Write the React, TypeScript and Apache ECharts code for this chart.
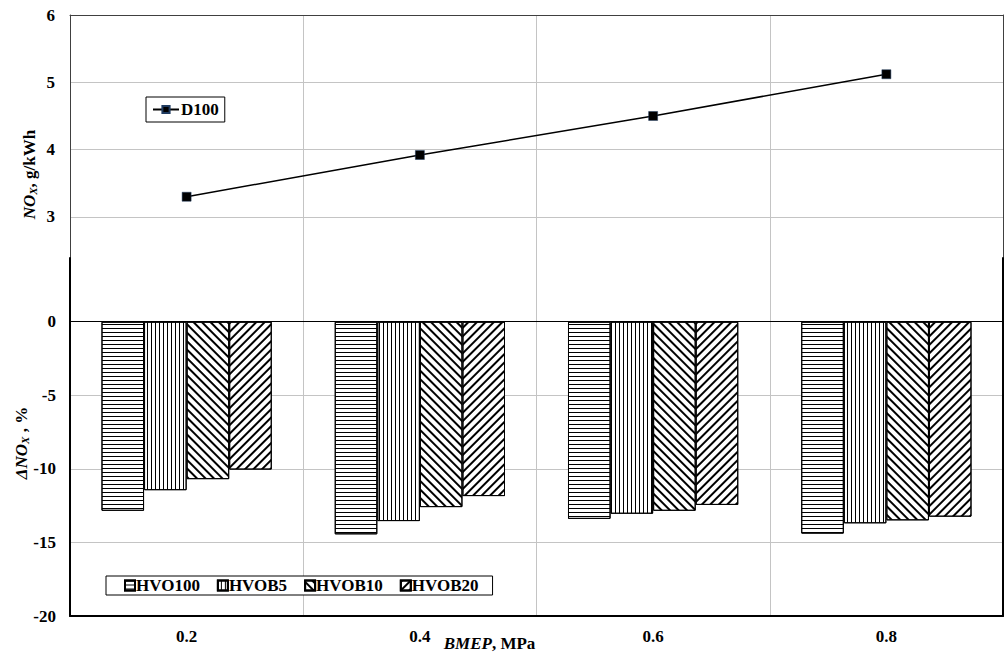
import React, { useEffect, useRef } from "react";
import * as echarts from "echarts";

const categories = ["0.2", "0.4", "0.6", "0.8"];
const d100 = [3.3, 3.92, 4.5, 5.12];
const hvo100 = [-12.85, -14.45, -13.4, -14.4];
const hvob5 = [-11.45, -13.55, -13.05, -13.7];
const hvob10 = [-10.7, -12.6, -12.85, -13.5];
const hvob20 = [-10.05, -11.85, -12.45, -13.25];
const barNames = ["HVO100", "HVOB5", "HVOB10", "HVOB20"];

const FONT = "Liberation Serif";
const GRID_GREY = "#c4c4c4";

const lineDecal = (rotation: number, w: number, gap: number) => ({
  symbol: "rect",
  symbolSize: 1,
  color: "#000",
  backgroundColor: "#fff",
  dashArrayX: [1, 0],
  dashArrayY: [w, gap],
  rotation,
});

const decals = [
  lineDecal(0, 1, 2.3),
  lineDecal(Math.PI / 2, 1, 2.5),
  lineDecal(Math.PI / 4, 2, 3.6),
  lineDecal(-Math.PI / 4, 2, 3.6),
];

export default function App() {
  const ref = useRef<HTMLDivElement>(null);
  useEffect(() => {
    if (!ref.current) return;
    const chart = echarts.init(ref.current, null, { renderer: "svg" });
    const labelStyle = { fontFamily: FONT, fontWeight: "bold" as const, fontSize: 17, color: "#000" };
    const barSeriesData = [hvo100, hvob5, hvob10, hvob20];
    const option: any = {
      animation: false,
      backgroundColor: "#fff",
      grid: [
        { left: 70, right: 3, top: 15, height: 243, outerBoundsMode: "none", containLabel: false },
        { left: 70, right: 3, top: 258, height: 358, outerBoundsMode: "none", containLabel: false },
      ],
      legend: [
        {
          data: ["D100"],
          left: 146,
          top: 97,
          padding: [4, 6],
          borderColor: "#000",
          borderWidth: 1,
          backgroundColor: "#fff",
          itemWidth: 26,
          itemHeight: 9,
          textStyle: { ...labelStyle, padding: [0, 0, 0, -3] },
        },
        {
          data: barNames,
          left: 106,
          top: 576,
          padding: [1, 14, 1, 18],
          itemGap: 17,
          icon: "rect",
          borderColor: "#000",
          borderWidth: 1,
          backgroundColor: "#fff",
          itemWidth: 10,
          itemHeight: 10,
          textStyle: { ...labelStyle, padding: [0, 0, 0, -4] },
        },
      ],
      xAxis: [
        {
          type: "category",
          gridIndex: 0,
          data: categories,
          position: "top",
          boundaryGap: true,
          axisLine: { show: true, onZero: false, lineStyle: { color: "#404040", width: 1 } },
          axisTick: { show: false },
          axisLabel: { show: false },
          splitLine: { show: true, lineStyle: { color: GRID_GREY, width: 1 } },
        },
        {
          type: "category",
          gridIndex: 1,
          data: categories,
          position: "bottom",
          boundaryGap: true,
          axisLine: { show: true, onZero: false, lineStyle: { color: "#000", width: 2 } },
          axisTick: { show: false },
          axisLabel: { ...labelStyle, margin: 12 },
          splitLine: { show: true, lineStyle: { color: GRID_GREY, width: 1 } },
          name: "{i|BMEP}{b|, MPa}",
          nameLocation: "middle",
          nameGap: 19,
          nameMoveOverlap: false,
          nameTextStyle: {
            ...labelStyle,
            padding: [0, 94, 0, 0],
            rich: {
              i: { fontFamily: FONT, fontWeight: "bold", fontStyle: "italic", fontSize: 17, color: "#000" },
              b: { fontFamily: FONT, fontWeight: "bold", fontSize: 17, color: "#000" },
            },
          },
        },
      ],
      yAxis: [
        {
          type: "value",
          gridIndex: 0,
          position: "left",
          min: 2.39,
          max: 6,
          splitNumber: 4,
          axisLine: { show: true, lineStyle: { color: "#404040", width: 1 } },
          axisTick: { show: false },
          axisLabel: { ...labelStyle, margin: 15, showMinLabel: false },
          splitLine: { show: true, showMinLine: false, lineStyle: { color: GRID_GREY, width: 1 } },
          name: "{i|NO}{s|X}{b|, g/kWh}",
          nameLocation: "middle",
          nameRotate: 90,
          nameGap: 32,
          nameMoveOverlap: false,
          nameTextStyle: {
            ...labelStyle,
            padding: [0, 76, 0, 0],
            rich: {
              i: { fontFamily: FONT, fontWeight: "bold", fontStyle: "italic", fontSize: 17, color: "#000" },
              s: { fontFamily: FONT, fontWeight: "bold", fontStyle: "italic", fontSize: 11, color: "#000", verticalAlign: "bottom" },
              b: { fontFamily: FONT, fontWeight: "bold", fontSize: 17, color: "#000" },
            },
          },
        },
        {
          type: "value",
          gridIndex: 0,
          position: "right",
          min: 2.39,
          max: 6,
          splitNumber: 4,
          axisLine: { show: true, lineStyle: { color: "#404040", width: 1 } },
          axisTick: { show: false },
          axisLabel: { show: false },
          splitLine: { show: false },
        },
        {
          type: "value",
          gridIndex: 1,
          position: "left",
          min: -20,
          max: 4.33,
          interval: 5,
          axisLine: { show: true, lineStyle: { color: "#000", width: 2 } },
          axisTick: { show: false },
          axisLabel: { ...labelStyle, margin: 14, showMaxLabel: false },
          splitLine: { show: true, showMaxLine: false, lineStyle: { color: GRID_GREY, width: 1 } },
          name: "{i|ΔNO}{s|X}{b| , %}",
          nameLocation: "middle",
          nameRotate: 90,
          nameGap: 40,
          nameMoveOverlap: false,
          nameTextStyle: {
            ...labelStyle,
            padding: [0, 12, 0, 0],
            rich: {
              i: { fontFamily: FONT, fontWeight: "bold", fontStyle: "italic", fontSize: 17, color: "#000" },
              s: { fontFamily: FONT, fontWeight: "bold", fontStyle: "italic", fontSize: 11, color: "#000", verticalAlign: "bottom" },
              b: { fontFamily: FONT, fontWeight: "bold", fontSize: 17, color: "#000" },
            },
          },
        },
        {
          type: "value",
          gridIndex: 1,
          position: "right",
          min: -20,
          max: 4.33,
          interval: 5,
          axisLine: { show: true, lineStyle: { color: "#000", width: 2 } },
          axisTick: { show: false },
          axisLabel: { show: false },
          splitLine: { show: false },
        },
      ],
      series: [
        {
          name: "D100",
          type: "line",
          xAxisIndex: 0,
          yAxisIndex: 0,
          data: d100,
          symbol: "rect",
          symbolSize: 9,
          lineStyle: { color: "#000", width: 1.5 },
          itemStyle: { color: "#000", borderColor: "#1f3b60", borderWidth: 0.5 },
        },
        ...barNames.map((n, i) => ({
          name: n,
          type: "bar",
          xAxisIndex: 1,
          yAxisIndex: 2,
          data: barSeriesData[i],
          barGap: "0%",
          barCategoryGap: "27%",
          itemStyle: { color: "#fff", borderColor: "#000", borderWidth: 1, decal: decals[i] },
          ...(i === 0
            ? {
                markLine: {
                  silent: true,
                  symbol: "none",
                  label: { show: false },
                  lineStyle: { color: "#000", width: 1, type: "solid" },
                  data: [{ yAxis: 0 }],
                },
              }
            : {}),
        })),
      ],
    };
    chart.setOption(option);
    return () => chart.dispose();
  }, []);
  return (
    <div
      ref={ref}
      style={{ position: "fixed", left: 0, top: 0, width: 1006, height: 654 }}
    />
  );
}
